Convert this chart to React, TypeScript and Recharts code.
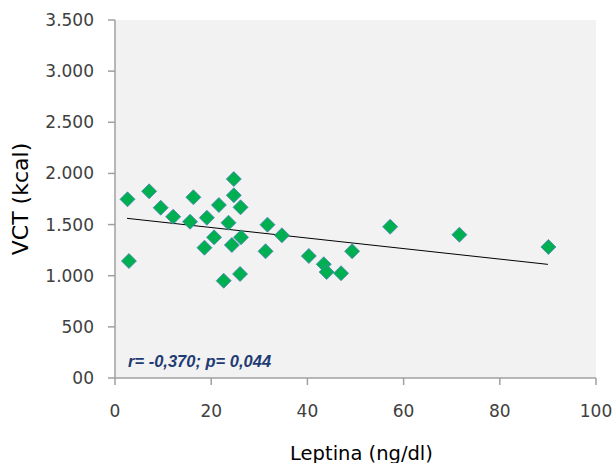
import { CartesianGrid, Label, Scatter, ScatterChart, XAxis, YAxis } from "recharts"

// leptina (ng/dl) per patient
const leptina = [
  2.6, 2.9, 7.1, 9.5, 12.1, 15.6, 16.3, 18.6, 19.1, 20.6, 21.6, 22.6, 23.6, 24.3, 24.7,
  24.7, 26.1, 26.0, 26.2, 31.7, 31.3, 34.7, 40.3, 43.4, 44.0, 47.0, 49.3, 57.2, 71.6, 90.1,
]
// VCT (kcal) per patient
const vct = [
  1747, 1144, 1825, 1665, 1577, 1528, 1767, 1274, 1567, 1375, 1691, 951, 1518, 1300, 1945,
  1786, 1669, 1017, 1376, 1499, 1239, 1395, 1193, 1112, 1036, 1024, 1239, 1479, 1401, 1281,
]
// trend line end points
const trendX = [2.5, 90]
const trendY = [1561, 1111]

const xTicks = [0, 20, 40, 60, 80, 100]
const yTicks = [0, 500, 1000, 1500, 2000, 2500, 3000, 3500]

const points = leptina.map((x, i) => ({ x, y: vct[i] }))
const trend = trendX.map((x, i) => ({ x, y: trendY[i] }))

const fmtY = (v: number) => (v === 0 ? "00" : v.toLocaleString("de-DE"))

const Diamond = (props: any) => {
  const { cx, cy } = props
  const r = 7.5
  return (
    <polygon
      points={`${cx},${cy - r} ${cx + r},${cy} ${cx},${cy + r} ${cx - r},${cy}`}
      fill="#00b050"
      stroke="#4f81bd"
      strokeWidth={0.8}
    />
  )
}

const tickStyle = { fontFamily: "DejaVu Sans", fontSize: 17, fill: "#404040" }

export default function App() {
  return (
    <div style={{ position: "absolute", left: 0, top: 0 }}>
      <ScatterChart width={612} height={463} margin={{ top: 20, right: 16, left: 0, bottom: 0 }}>
        <CartesianGrid horizontal={false} vertical={false} fill="#f2f2f2" stroke="none" />
        <XAxis
          type="number"
          dataKey="x"
          domain={[0, 100]}
          ticks={xTicks}
          height={85}
          tickSize={7}
          tickMargin={20}
          stroke="#a0a0a0"
          strokeWidth={1.5}
          tick={tickStyle}
        >
          <Label
            content={({ viewBox }: any) => (
              <text
                x={viewBox.x + viewBox.width / 2 + 6}
                y={453}
                textAnchor="middle"
                dominantBaseline="central"
                fontFamily="DejaVu Sans"
                fontSize={19.5}
                fill="#000"
              >
                Leptina (ng/dl)
              </text>
            )}
          />
        </XAxis>
        <YAxis
          type="number"
          dataKey="y"
          domain={[0, 3500]}
          ticks={yTicks}
          width={115}
          tickSize={7}
          tickMargin={14}
          tickFormatter={fmtY}
          stroke="#a0a0a0"
          strokeWidth={1.5}
          tick={tickStyle}
        >
          <Label
            content={({ viewBox }: any) => (
              <text
                x={20}
                y={viewBox.y + viewBox.height / 2}
                transform={`rotate(-90 20 ${viewBox.y + viewBox.height / 2})`}
                textAnchor="middle"
                dominantBaseline="central"
                fontFamily="DejaVu Sans"
                fontSize={22}
                fill="#000"
              >
                VCT (kcal)
              </text>
            )}
          />
        </YAxis>
        <Scatter
          data={trend}
          line={{ stroke: "#000", strokeWidth: 1 }}
          shape={() => <g />}
          isAnimationActive={false}
        />
        <Scatter data={points} shape={Diamond} isAnimationActive={false} />
        <text
          x={128}
          y={361}
          dominantBaseline="central"
          fontFamily="Liberation Sans"
          fontStyle="italic"
          fontWeight="bold"
          fontSize={16.5}
          fill="#1f3b73"
        >
          r= -0,370; p= 0,044
        </text>
      </ScatterChart>
    </div>
  )
}
